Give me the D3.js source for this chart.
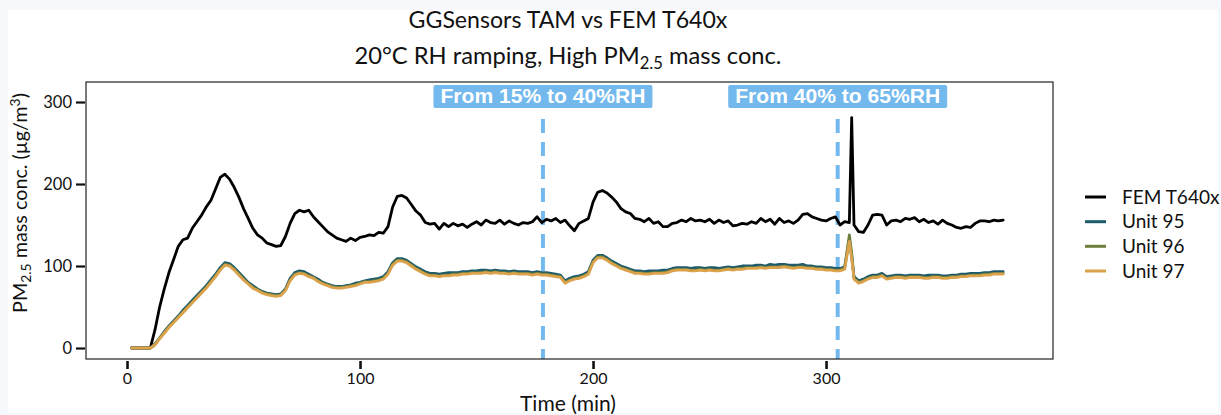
<!DOCTYPE html>
<html><head><meta charset="utf-8">
<script src="https://cdn.jsdelivr.net/npm/d3@7"></script>
<style>html,body{margin:0;padding:0;background:#f6f8fb;}svg{display:block;}</style>
</head><body>
<svg id="c" width="1221" height="415"></svg>
<script>
// ---------- DATA ----------
const times = [
  2,4,6,8,10,12,14,16,18,20,
  22,24,26,28,30,32,34,36,38,40,
  42,44,46,48,50,52,54,56,58,60,
  62,64,66,68,70,72,74,76,78,80,
  82,84,86,88,90,92,94,96,98,100,
  102,104,106,108,110,112,114,116,118,120,
  122,124,126,128,130,132,134,136,138,140,
  142,144,146,148,150,152,154,156,158,160,
  162,164,166,168,170,172,174,176,178,180,
  182,184,186,188,190,192,194,196,198,200,
  202,204,206,208,210,212,214,216,218,220,
  222,224,226,228,230,232,234,236,238,240,
  242,244,246,248,250,252,254,256,258,260,
  262,264,266,268,270,272,274,276,278,280,
  282,284,286,288,290,292,294,296,298,300,
  302,304,306,308,310,311,312,314,316,318,320,
  322,324,326,328,330,332,334,336,338,340,
  342,344,346,348,350,352,354,356,358,360,
  362,364,366,368,370,372,374,376
];
const femT640x = [
  0,0,0,0,0,22,50,72,92,108,
  124,132,134,146,154,162,172,180,194,208,
  212,206,196,184,170,158,146,138,134,128,
  126,124,125,136,152,164,168,166,168,160,
  154,148,142,138,134,132,130,134,131,135,
  136,138,137,141,140,148,172,185,186,183,
  175,167,162,153,151,152,145,152,148,152,
  149,151,147,151,154,150,156,153,152,156,
  151,155,152,150,153,152,154,160,153,157,
  155,158,153,156,149,143,152,155,158,178,
  190,192,189,184,178,170,166,164,158,157,
  154,158,152,154,148,148,152,153,156,154,
  158,155,156,154,157,152,156,153,155,149,
  150,152,151,154,152,158,154,157,151,158,
  153,155,152,156,163,164,160,158,156,155,
  158,160,150,154,153,281,150,142,141,150,162,
  163,162,150,155,156,154,158,157,159,154,
  157,153,155,151,156,152,150,147,146,148,
  147,152,155,155,154,156,155,156
];
const unit95 = [
  0,0,0,0,0,5,12,20,27,33,
  39,46,52,58,64,70,76,83,90,98,
  104,103,98,92,86,80,76,72,69,67,
  66,65,66,72,85,92,94,93,90,87,
  84,80,78,76,75,75,76,77,79,80,
  82,83,84,85,87,93,104,109,109,107,
  103,99,96,93,91,91,90,91,92,92,
  92,93,93,94,94,95,95,94,95,94,
  94,93,94,93,93,93,92,93,92,92,
  91,90,89,82,85,87,88,90,93,107,
  113,113,110,106,103,100,98,96,94,94,
  93,94,94,94,95,95,97,98,98,98,
  97,98,98,97,98,98,97,98,99,98,
  99,100,100,100,101,101,100,102,101,102,
  102,101,101,101,102,100,100,99,99,98,
  98,97,97,99,132,112,87,82,84,87,89,
  89,91,87,88,89,89,88,89,89,89,
  88,89,89,89,88,88,89,89,90,90,
  91,91,91,92,92,93,93,93
];
const unit96 = [
  0,0,0,0,0,4,12,19,26,32,
  38,44,50,56,62,68,74,81,88,96,
  102,101,96,90,84,79,74,71,68,66,
  65,64,65,71,83,90,92,91,88,86,
  82,79,77,75,74,74,75,76,77,79,
  81,81,82,83,85,91,102,107,107,105,
  101,97,94,91,89,89,88,89,89,90,
  90,91,91,92,92,92,93,92,93,92,
  92,91,92,91,91,91,90,91,90,90,
  89,88,87,80,83,85,86,88,91,105,
  111,111,108,104,101,98,96,94,92,92,
  91,91,92,92,92,93,95,96,96,96,
  95,95,96,95,96,95,95,96,97,96,
  97,97,98,98,98,99,98,99,99,99,
  100,99,98,99,99,98,98,97,97,96,
  96,95,95,98,138,116,85,80,82,85,87,
  87,89,85,86,87,87,86,87,87,87,
  86,86,87,87,86,86,87,87,88,88,
  89,89,89,90,90,91,91,91
];
const unit97 = [
  0,0,0,0,0,4,11,18,25,31,
  37,43,49,55,61,67,73,80,87,95,
  101,100,95,89,83,78,73,70,67,65,
  64,63,64,70,82,89,91,90,87,85,
  81,78,76,74,73,73,74,75,76,78,
  80,80,81,82,84,90,101,106,106,104,
  100,96,93,90,88,88,87,88,88,89,
  89,90,90,91,91,91,92,91,92,91,
  91,90,91,90,90,90,89,90,89,89,
  88,87,86,79,82,84,85,87,90,104,
  110,110,107,103,100,97,95,93,91,91,
  90,90,91,91,91,92,94,95,95,95,
  94,94,95,94,95,94,94,95,96,95,
  96,96,97,97,97,98,97,98,98,98,
  99,98,97,98,98,97,97,96,96,95,
  95,94,94,96,130,109,84,79,81,84,86,
  86,88,84,85,86,86,85,86,86,86,
  85,85,86,86,85,85,86,86,87,87,
  88,88,88,89,89,90,90,90
];
const seriesNames = ["FEM T640x","Unit 95","Unit 96","Unit 97"];
const seriesColors = ["#000000","#1d5b6c","#6e7e3c","#dba24c"];
const xTicks = [0,100,200,300];
const yTicks = [0,100,200,300];
const rhChangeTimes = [178.5, 305];
const rhLabels = ["From 15% to 40%RH","From 40% to 65%RH"];

// ---------- CHART ----------
const FONT = "Lato, 'Open Sans', sans-serif";
const svg = d3.select("#c");
svg.append("rect").attr("x",8).attr("y",10).attr("width",1210).attr("height",403).attr("fill","#ffffff");

const L=86,R=1053,T=82,B=359;
const x = d3.scaleLinear().domain([-17.6,397.4]).range([L,R]);
const y = d3.scaleLinear().domain([-13.4,324.4]).range([B,T]);

function fit(sel, target){
  const n = sel.node();
  const fs = parseFloat(sel.attr("font-size"));
  const w = n.getComputedTextLength();
  sel.attr("font-size", (fs*target/w).toFixed(2));
}

svg.append("defs").append("clipPath").attr("id","clip")
  .append("rect").attr("x",L).attr("y",T).attr("width",R-L).attr("height",B-T);

// dashed RH change lines
const g = svg.append("g").attr("clip-path","url(#clip)");
g.selectAll("line.rh").data(rhChangeTimes).enter().append("line")
  .attr("x1",d=>x(d)).attr("x2",d=>x(d)).attr("y1",119).attr("y2",B)
  .attr("stroke","#74b9ee").attr("stroke-width",4).attr("stroke-dasharray","14,9");

// series
const allSeries = [femT640x, unit95, unit96, unit97];
const line = d3.line().x((d,i)=>x(times[i])).y(d=>y(d)).curve(d3.curveLinear);
allSeries.forEach((vals,k)=>{
  g.append("path").datum(vals).attr("d",line).attr("fill","none")
    .attr("stroke",seriesColors[k]).attr("stroke-width",2.8)
    .attr("stroke-linejoin","round").attr("stroke-linecap","round");
});

// frame
svg.append("rect").attr("x",L).attr("y",T).attr("width",R-L).attr("height",B-T)
  .attr("fill","none").attr("stroke","#222").attr("stroke-width",1.2);

// label boxes
rhChangeTimes.forEach((t,i)=>{
  svg.append("rect").attr("x",x(t)-109.5).attr("y",85).attr("width",219).attr("height",23)
    .attr("rx",2).attr("fill","#74b9ee");
  const tx = svg.append("text").attr("x",x(t)).attr("y",102.5).attr("text-anchor","middle")
    .attr("font-family","'Liberation Sans', Arial, sans-serif").attr("font-weight","bold")
    .attr("font-size",17).attr("fill","#ffffff").text(rhLabels[i]);
  fit(tx,205);
});

// axes
const ya = svg.append("g").attr("transform",`translate(${L-1},0)`)
  .call(d3.axisLeft(y).tickValues(yTicks).tickSize(9).tickPadding(4));
ya.select(".domain").remove();
ya.selectAll(".tick line").attr("stroke","#111").attr("stroke-width",2.2);
ya.selectAll(".tick text").attr("font-family",FONT).attr("font-size",16.5).attr("fill","#111");

const xa = svg.append("g").attr("transform",`translate(0,${B+2})`)
  .call(d3.axisBottom(x).tickValues(xTicks).tickSize(8).tickPadding(4));
xa.select(".domain").remove();
xa.selectAll(".tick line").attr("stroke","#111").attr("stroke-width",2.6);
xa.selectAll(".tick text").attr("font-family",FONT).attr("font-size",16).attr("fill","#111");

// titles
const t1 = svg.append("text").attr("x",568).attr("y",28).attr("text-anchor","middle")
  .attr("font-family",FONT).attr("font-size",21).attr("fill","#111").text("GGSensors TAM vs FEM T640x");
fit(t1,319);
const t2 = svg.append("text").attr("x",568).attr("y",64).attr("text-anchor","middle")
  .attr("font-family",FONT).attr("font-size",21).attr("fill","#111");
t2.append("tspan").text("20°C RH ramping, High PM");
t2.append("tspan").attr("font-size","0.7em").attr("dy",5).text("2.5");
t2.append("tspan").attr("dy",-5).text(" mass conc.");
fit(t2,427);

const xl = svg.append("text").attr("x",568).attr("y",411).attr("text-anchor","middle")
  .attr("font-family",FONT).attr("font-size",18).attr("fill","#111").text("Time (min)");
fit(xl,96);

const yl = svg.append("text").attr("transform","translate(27,203) rotate(-90)").attr("text-anchor","middle")
  .attr("font-family",FONT).attr("font-size",19).attr("fill","#111");
yl.append("tspan").text("PM");
yl.append("tspan").attr("font-size","0.7em").attr("dy",4).text("2.5");
yl.append("tspan").attr("dy",-4).text(" mass conc. (µg/m");
yl.append("tspan").attr("font-size","0.7em").attr("dy",-7).text("3");
yl.append("tspan").attr("dy",7).text(")");
fit(yl,220);

// legend
const legY = [197,221.7,246.3,271];
seriesNames.forEach((nm,i)=>{
  svg.append("line").attr("x1",1085).attr("x2",1106).attr("y1",legY[i]).attr("y2",legY[i])
    .attr("stroke",seriesColors[i]).attr("stroke-width",3);
  const lt = svg.append("text").attr("x",1122).attr("y",legY[i]+6.5).attr("font-family",FONT)
    .attr("font-size",19).attr("fill","#111").text(nm);
});
</script>
</body></html>
